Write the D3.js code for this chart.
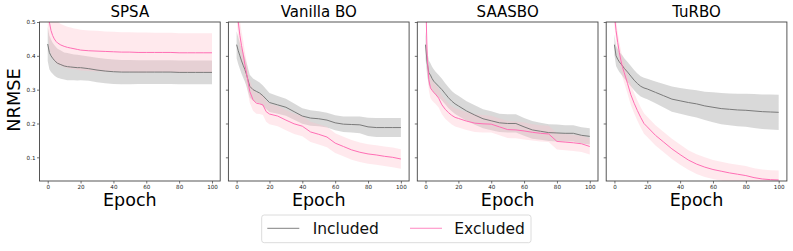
<!DOCTYPE html>
<html><head><meta charset="utf-8">
<script src="https://cdn.jsdelivr.net/npm/d3@7"></script>
<style>body{margin:0;background:#fff}svg{display:block}text{font-family:"DejaVu Sans",sans-serif}</style>
</head><body>
<script>
const titles = ["SPSA","Vanilla BO","SAASBO","TuRBO"];
const seriesNames = ["Included","Excluded"];
const epochs = [0,1,2,3,4,5,6,8,10,12,14,16,18,20,25,30,35,40,45,50,55,60,65,70,75,80,85,90,95,100];
const xTicks = [0,20,40,60,80,100];
const yTicks = [0.1,0.2,0.3,0.4,0.5];

// SPSA
const spsaIncMean = [0.435,0.41,0.40,0.393,0.387,0.382,0.378,0.374,0.370,0.368,0.367,0.366,0.365,0.365,0.362,0.358,0.355,0.353,0.352,0.352,0.352,0.352,0.352,0.352,0.352,0.351,0.351,0.351,0.351,0.351];
const spsaIncStd  = [0.05,0.05,0.048,0.046,0.045,0.044,0.043,0.042,0.040,0.040,0.039,0.038,0.038,0.037,0.036,0.036,0.036,0.036,0.036,0.036,0.035,0.035,0.035,0.035,0.035,0.035,0.035,0.035,0.035,0.035];
const spsaExcMean = [0.58,0.50,0.475,0.46,0.45,0.443,0.438,0.432,0.428,0.425,0.423,0.421,0.419,0.417,0.415,0.414,0.413,0.412,0.411,0.411,0.41,0.41,0.41,0.41,0.41,0.409,0.409,0.409,0.409,0.409];
const spsaExcStd  = [0.09,0.08,0.07,0.066,0.065,0.064,0.063,0.062,0.062,0.061,0.061,0.060,0.060,0.060,0.060,0.060,0.059,0.059,0.059,0.059,0.059,0.059,0.058,0.058,0.058,0.058,0.058,0.058,0.058,0.058];
// Vanilla BO
const vanIncMean = [0.433,0.415,0.40,0.385,0.372,0.36,0.345,0.31,0.30,0.295,0.29,0.282,0.272,0.262,0.255,0.248,0.235,0.222,0.216,0.214,0.21,0.202,0.198,0.197,0.196,0.19,0.188,0.188,0.188,0.188];
const vanIncStd  = [0.04,0.04,0.039,0.038,0.037,0.036,0.035,0.034,0.033,0.032,0.031,0.030,0.029,0.028,0.026,0.025,0.024,0.023,0.023,0.022,0.022,0.022,0.023,0.024,0.025,0.027,0.028,0.028,0.028,0.028];
const vanExcMean = [0.56,0.50,0.46,0.43,0.405,0.375,0.35,0.295,0.27,0.26,0.258,0.255,0.235,0.228,0.222,0.21,0.199,0.192,0.175,0.168,0.16,0.142,0.132,0.122,0.115,0.11,0.107,0.103,0.10,0.095];
const vanExcStd  = [0.05,0.048,0.045,0.042,0.04,0.038,0.036,0.034,0.032,0.031,0.030,0.030,0.030,0.030,0.030,0.030,0.030,0.030,0.030,0.030,0.030,0.029,0.029,0.029,0.029,0.029,0.029,0.029,0.029,0.029];
// SAASBO
const saasIncMean = [0.433,0.38,0.35,0.343,0.333,0.325,0.32,0.31,0.30,0.288,0.276,0.266,0.258,0.252,0.237,0.225,0.214,0.208,0.202,0.20,0.20,0.19,0.181,0.177,0.173,0.172,0.171,0.171,0.165,0.162];
const saasIncStd  = [0.04,0.038,0.036,0.035,0.035,0.035,0.034,0.033,0.032,0.031,0.031,0.030,0.030,0.030,0.029,0.029,0.028,0.028,0.027,0.027,0.027,0.026,0.026,0.025,0.025,0.025,0.024,0.024,0.024,0.024];
const saasExcMean = [0.60,0.40,0.33,0.305,0.298,0.292,0.287,0.275,0.255,0.242,0.232,0.224,0.218,0.215,0.207,0.201,0.199,0.198,0.19,0.182,0.181,0.178,0.174,0.171,0.169,0.147,0.145,0.143,0.14,0.132];
const saasExcStd  = [0.04,0.035,0.032,0.030,0.030,0.029,0.029,0.028,0.028,0.028,0.027,0.027,0.027,0.027,0.026,0.026,0.026,0.025,0.025,0.025,0.025,0.025,0.024,0.024,0.024,0.024,0.024,0.024,0.024,0.024];
// TuRBO
const turIncMean = [0.433,0.40,0.39,0.382,0.376,0.37,0.363,0.352,0.34,0.328,0.318,0.31,0.305,0.302,0.292,0.282,0.272,0.267,0.262,0.258,0.252,0.248,0.244,0.242,0.24,0.239,0.237,0.235,0.234,0.233];
const turIncStd  = [0.03,0.03,0.03,0.03,0.03,0.03,0.03,0.03,0.03,0.03,0.03,0.03,0.03,0.03,0.032,0.035,0.037,0.038,0.039,0.04,0.042,0.044,0.046,0.047,0.048,0.049,0.05,0.051,0.052,0.052];
const turExcMean = [0.52,0.475,0.44,0.41,0.385,0.365,0.35,0.318,0.285,0.26,0.238,0.218,0.20,0.19,0.165,0.145,0.125,0.108,0.092,0.08,0.071,0.064,0.059,0.054,0.05,0.046,0.04,0.036,0.034,0.033];
const turExcStd  = [0.03,0.03,0.03,0.03,0.03,0.03,0.03,0.03,0.03,0.03,0.03,0.03,0.03,0.03,0.03,0.03,0.03,0.03,0.029,0.029,0.029,0.028,0.028,0.028,0.028,0.028,0.028,0.028,0.028,0.028];

const panels = [
  {inc:[spsaIncMean,spsaIncStd], exc:[spsaExcMean,spsaExcStd]},
  {inc:[vanIncMean,vanIncStd], exc:[vanExcMean,vanExcStd]},
  {inc:[saasIncMean,saasIncStd], exc:[saasExcMean,saasExcStd]},
  {inc:[turIncMean,turIncStd], exc:[turExcMean,turExcStd]}
];

const W = 793, H = 251;
const svg = d3.select("body").append("svg").attr("width",W).attr("height",H);
const topY = 22, botY = 181, pw = 180.7, step = 188.9, left0 = 39.5;
const col = {inc:{line:"#7a7a7a", band:"#bfbfbf", op:0.6}, exc:{line:"#ff6eb4", band:"#ffc0cb", op:0.35}};

panels.forEach((p,i) => {
  const L = left0 + i*step;
  const x = d3.scaleLinear().domain([-5,105]).range([L, L+pw]);
  const y = d3.scaleLinear().domain([0.03,0.5]).range([botY, topY]);
  const g = svg.append("g");
  const cid = "clip"+i;
  svg.append("clipPath").attr("id",cid).append("rect").attr("x",L).attr("y",topY).attr("width",pw).attr("height",botY-topY);
  const plot = g.append("g").attr("clip-path",`url(#${cid})`);
  const area = d3.area().x((d,k)=>x(epochs[k])).y0(d=>y(d[0]-d[1])).y1(d=>y(d[0]+d[1]));
  const line = d3.line().x((d,k)=>x(epochs[k])).y(d=>y(d));
  ["inc","exc"].forEach(s => {
    const [m,sd] = p[s];
    plot.append("path").datum(m.map((v,k)=>[v,sd[k]])).attr("d",area)
      .attr("fill",col[s].band).attr("fill-opacity",col[s].op).attr("stroke","none");
  });
  ["inc","exc"].forEach(s => {
    plot.append("path").datum(p[s][0]).attr("d",line)
      .attr("fill","none").attr("stroke",col[s].line).attr("stroke-width",1);
  });
  const xa = g.append("g").attr("transform",`translate(0,${botY})`)
    .call(d3.axisBottom(x).tickValues(xTicks).tickSize(2.5).tickPadding(1.5));
  const ya = g.append("g").attr("transform",`translate(${L},0)`)
    .call(d3.axisLeft(y).tickValues(yTicks).tickSize(2.5).tickPadding(1.5).tickFormat(i===0?d3.format(".1f"):()=>""));
  [xa,ya].forEach(a=>{
    a.select(".domain").remove();
    a.selectAll(".tick line").attr("stroke","#333").attr("stroke-width",0.7);
    a.selectAll(".tick text").attr("font-size",5.6).attr("fill","#222").attr("font-family","DejaVu Sans");
  });
  g.append("rect").attr("x",L).attr("y",topY).attr("width",pw).attr("height",botY-topY)
    .attr("fill","none").attr("stroke","#444").attr("stroke-width",0.9);
  g.append("text").attr("x",L+pw/2).attr("y",17.3).attr("text-anchor","middle")
    .attr("font-size",15).attr("fill","#000").text(titles[i]);
  g.append("text").attr("x",L+pw/2).attr("y",206).attr("text-anchor","middle")
    .attr("font-size",17.5).attr("fill","#000").text("Epoch");
});

svg.append("text").attr("transform",`translate(20,100) rotate(-90)`).attr("text-anchor","middle")
  .attr("font-size",17.8).attr("fill","#000").text("NRMSE");

const lg = svg.append("g");
lg.append("rect").attr("x",261.7).attr("y",215).attr("width",269.3).attr("height",27.7).attr("rx",2.5)
  .attr("fill","#fff").attr("stroke","#d8d8d8").attr("stroke-width",0.9);
const legX = [[267.3,312.7],[410,454.3]];
seriesNames.forEach((n,k)=>{
  lg.append("line").attr("x1",legX[k][0]).attr("x2",legX[k][0]+32).attr("y1",228.3).attr("y2",228.3)
    .attr("stroke",k===0?"#9a9a9a":"#ff9acb").attr("stroke-width",1.2);
  lg.append("text").attr("x",legX[k][1]).attr("y",233.5).attr("font-size",15.5).attr("fill","#111").text(n);
});
</script>
</body></html>
